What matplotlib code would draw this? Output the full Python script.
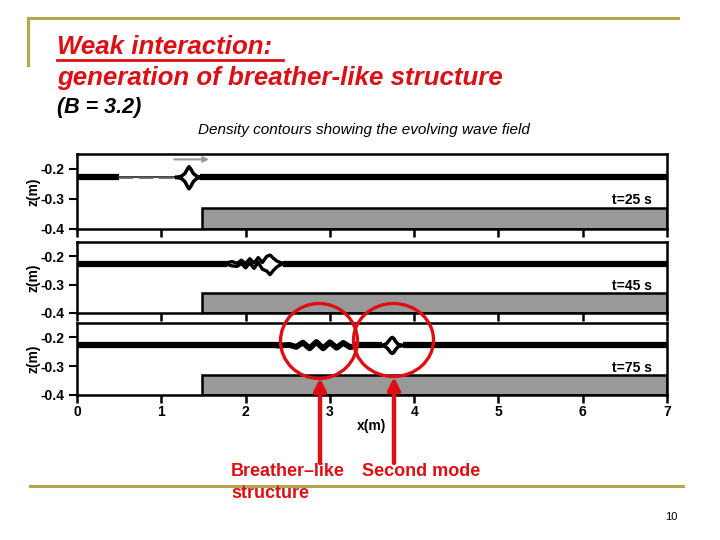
import matplotlib
matplotlib.use("Agg")
import matplotlib.pyplot as plt
from matplotlib.patches import Ellipse, Rectangle, FancyArrowPatch

plt.rcParams['font.family'] = ['Liberation Sans', 'DejaVu Sans']

# ---------------- data ----------------
times = ["t=25 s", "t=45 s", "t=75 s"]
x_ticks = [0, 1, 2, 3, 4, 5, 6, 7]
z_ticks = [-0.2, -0.3, -0.4]
z_tick_labels = ["-0.2", "-0.3", "-0.4"]
shelf_x = [1.48, 7.0]
shelf_top = -0.33
z_base = [-0.228, -0.226, -0.228]

# panel 1 (t=25 s): thick baseline segments and a solitary wave (diamond)
p1_thick = [[0.0, 0.5], [1.46, 7.0]]
p1_thin = [[0.5, 1.2]]
p1_x = [1.18, 1.24, 1.28, 1.31, 1.33, 1.35, 1.38, 1.42, 1.48]
p1_up = [-0.228, -0.224, -0.215, -0.200, -0.192, -0.200, -0.215, -0.224, -0.228]
p1_lo = [-0.228, -0.232, -0.242, -0.258, -0.266, -0.258, -0.242, -0.232, -0.228]
p1_arrow_x = [1.12, 1.60]
p1_arrow_z = -0.168

# panel 2 (t=45 s)
p2_thick = [[0.0, 1.78], [2.44, 7.0]]
p2_x = [1.78, 1.84, 1.90, 1.95, 2.00, 2.05, 2.10, 2.15, 2.20, 2.25, 2.29, 2.33, 2.37, 2.41, 2.45]
p2_up = [-0.223, -0.219, -0.225, -0.214, -0.226, -0.209, -0.224, -0.205, -0.222, -0.201, -0.196, -0.207, -0.217, -0.222, -0.225]
p2_lo = [-0.229, -0.234, -0.236, -0.226, -0.241, -0.224, -0.243, -0.222, -0.246, -0.252, -0.265, -0.250, -0.238, -0.231, -0.227]

# panel 3 (t=75 s)
p3_thick = [[0.0, 2.42], [3.30, 3.62], [3.87, 7.0]]
p3_x = [2.40, 2.52, 2.60, 2.68, 2.76, 2.84, 2.92, 3.00, 3.08, 3.16, 3.24, 3.32]
p3_z = [-0.228, -0.226, -0.233, -0.218, -0.238, -0.216, -0.238, -0.217, -0.236, -0.219, -0.234, -0.228]
p3d_x = [3.62, 3.67, 3.70, 3.72, 3.74, 3.76, 3.78, 3.81, 3.87]
p3d_up = [-0.228, -0.222, -0.212, -0.204, -0.200, -0.204, -0.214, -0.224, -0.228]
p3d_lo = [-0.228, -0.234, -0.244, -0.252, -0.256, -0.252, -0.242, -0.232, -0.228]

# ---------------- figure ----------------
W, H = 720, 540
fig = plt.figure(figsize=(7.2, 5.4), dpi=100)

def px_axes(left, top, right, bottom, **kw):
    return fig.add_axes([left / W, 1 - bottom / H, (right - left) / W, (bottom - top) / H], **kw)

panel_px = [(154, 229), (242, 313), (323, 395)]
axes = []
for i, (top, bot) in enumerate(panel_px):
    ax = px_axes(77, top, 667, bot)
    ax.set_xlim(0, 7)
    ax.set_ylim(-0.4, -0.15)
    for s in ax.spines.values():
        s.set_linewidth(1.8)
        s.set_color("black")
    ax.set_yticks(z_ticks)
    ax.set_yticklabels(z_tick_labels, fontsize=10, fontweight="bold")
    ax.tick_params(axis="y", direction="out", length=6, width=1.5, pad=3)
    ax.set_xticks(x_ticks)
    ax.tick_params(axis="x", direction="out", length=6, width=1.8)
    if i < 2:
        ax.set_xticklabels([])
    else:
        ax.set_xticklabels([str(v) for v in x_ticks], fontsize=10, fontweight="bold")
        ax.tick_params(axis="x", pad=1)
        ax.set_xlabel("x(m)", fontsize=10, fontweight="bold", labelpad=0)
    ax.set_ylabel("z(m)", fontsize=10, fontweight="bold", labelpad=0)
    ax.add_patch(Rectangle((shelf_x[0], -0.4), shelf_x[1] - shelf_x[0], shelf_top + 0.4,
                           facecolor="#999999", edgecolor="black", linewidth=1.8, zorder=2))
    ax.text(6.82, -0.305, times[i], fontsize=10, fontweight="bold", ha="right", va="center")
    axes.append(ax)

ax1, ax2, ax3 = axes
thick_lw = 4.5

# panel 1
for seg in p1_thick:
    ax1.plot(seg, [z_base[0]] * 2, color="black", lw=thick_lw, solid_capstyle="butt")
for seg in p1_thin:
    ax1.plot(seg, [z_base[0] + 0.002] * 2, color="#333333", lw=1.3)
    ax1.plot(seg, [z_base[0] - 0.002] * 2, color="#666666", lw=1.3, ls=(0, (8, 3)))
ax1.plot(p1_x, p1_up, color="black", lw=2.5)
ax1.plot(p1_x, p1_lo, color="black", lw=2.5)
ax1.annotate("", xy=(p1_arrow_x[1], p1_arrow_z), xytext=(p1_arrow_x[0], p1_arrow_z),
             arrowprops=dict(arrowstyle="-|>", color="#999999", lw=1.5, mutation_scale=8))

# panel 2
for seg in p2_thick:
    ax2.plot(seg, [z_base[1]] * 2, color="black", lw=thick_lw, solid_capstyle="butt")
ax2.plot(p2_x, p2_up, color="black", lw=2.4)
ax2.plot(p2_x, p2_lo, color="black", lw=2.4)

# panel 3
for seg in p3_thick:
    ax3.plot(seg, [z_base[2]] * 2, color="black", lw=thick_lw, solid_capstyle="butt")
ax3.plot(p3_x, p3_z, color="black", lw=4.2)
ax3.plot(p3d_x, p3d_up, color="black", lw=2.5)
ax3.plot(p3d_x, p3d_lo, color="black", lw=2.5)

# ---------------- slide overlay ----------------
ov = fig.add_axes([0, 0, 1, 1], zorder=10)
ov.set_xlim(0, W)
ov.set_ylim(H, 0)
ov.axis("off")
ov.patch.set_visible(False)

olive = "#b8a64a"
ov.plot([28, 678], [17.5, 17.5], color=olive, lw=2.2)
ov.plot([28, 28], [17.5, 65], color=olive, lw=2.2)
ov.plot([30, 683], [486, 486], color=olive, lw=2.2)

red = "#dd0f14"
ov.text(57, 47, "Weak interaction: ", color=red, fontsize=18.6, fontweight="bold",
        fontstyle="italic", va="center", ha="left")
ov.plot([57, 283], [60, 60], color=red, lw=2)
ov.text(57, 78, "generation of breather-like structure", color=red, fontsize=18.6,
        fontweight="bold", fontstyle="italic", va="center", ha="left")
ov.text(57, 108, "(B = 3.2)", color="black", fontsize=15.5, fontweight="bold",
        fontstyle="italic", va="center", ha="left")
ov.text(364, 130, "Density contours showing the evolving wave field", color="black",
        fontsize=11, fontstyle="italic", va="center", ha="center")

# circles and arrows
ov.add_patch(Ellipse((319, 341), 77, 75, fill=False, edgecolor=red, lw=2.4))
ov.add_patch(Ellipse((393.5, 340), 80, 73, fill=False, edgecolor=red, lw=2.4))
for xa, tip in [(320, 378), (394, 377)]:
    ov.add_patch(FancyArrowPatch((xa, 463), (xa, tip), arrowstyle="-|>",
                                 mutation_scale=18, color=red, lw=3.2, shrinkA=0, shrinkB=0))

ov.text(231, 471, "Breather\u2013like", color=red, fontsize=13, fontweight="bold",
        va="center", ha="left")
ov.text(231, 494, "structure", color=red, fontsize=13, fontweight="bold",
        va="center", ha="left")
ov.text(362, 471, "Second mode", color=red, fontsize=13, fontweight="bold",
        va="center", ha="left")
ov.text(671, 517, "10", color="black", fontsize=8, va="center", ha="center")

fig.savefig("out.png", dpi=100)
